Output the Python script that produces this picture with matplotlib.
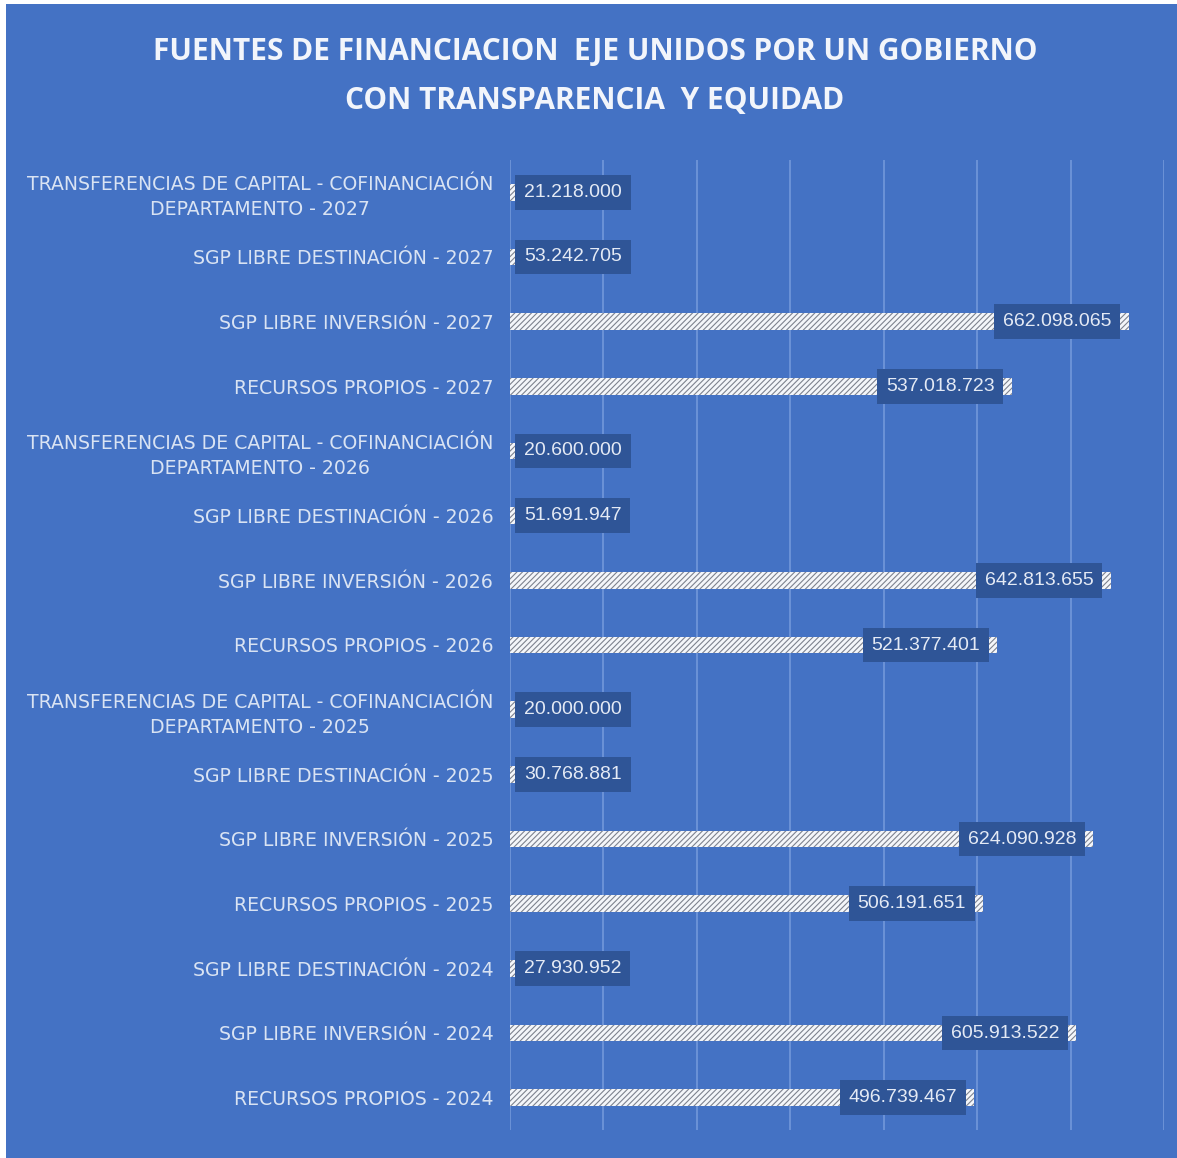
import matplotlib.pyplot as plt
from matplotlib.patches import Rectangle

# Fuentes de financiación, de abajo hacia arriba
categorias = [
    "RECURSOS PROPIOS - 2024",
    "SGP LIBRE INVERSIÓN - 2024",
    "SGP LIBRE DESTINACIÓN - 2024",
    "RECURSOS PROPIOS - 2025",
    "SGP LIBRE INVERSIÓN - 2025",
    "SGP LIBRE DESTINACIÓN - 2025",
    "TRANSFERENCIAS DE CAPITAL - COFINANCIACIÓN\nDEPARTAMENTO - 2025",
    "RECURSOS PROPIOS - 2026",
    "SGP LIBRE INVERSIÓN - 2026",
    "SGP LIBRE DESTINACIÓN - 2026",
    "TRANSFERENCIAS DE CAPITAL - COFINANCIACIÓN\nDEPARTAMENTO - 2026",
    "RECURSOS PROPIOS - 2027",
    "SGP LIBRE INVERSIÓN - 2027",
    "SGP LIBRE DESTINACIÓN - 2027",
    "TRANSFERENCIAS DE CAPITAL - COFINANCIACIÓN\nDEPARTAMENTO - 2027",
]
valores = [
    496739467, 605913522, 27930952,
    506191651, 624090928, 30768881, 20000000,
    521377401, 642813655, 51691947, 20600000,
    537018723, 662098065, 53242705, 21218000,
]

FONDO = "#4472c4"
CAJA = "#2f5597"
TEXTO = "#d9e3f3"

plt.rcParams["hatch.linewidth"] = 0.8


def miles(v):
    return f"{v:,}".replace(",", ".")


fig = plt.figure(figsize=(11.77, 11.58), dpi=100, facecolor="white")
fig.patches.append(Rectangle((6 / 1177, 0), 1, 1 - 4 / 1158, transform=fig.transFigure,
                             facecolor=FONDO, edgecolor="none", zorder=-10))

ax = fig.add_axes([510 / 1177, 1 - 1130 / 1158, 654 / 1177, 970 / 1158])
ax.set_zorder(2)
ax.patch.set_alpha(0)

y = list(range(len(categorias)))
ax.barh(y, valores, height=0.26, color="#f4f6fa", edgecolor="#7d828e",
        hatch="//////", linewidth=0, zorder=3)

# etiqueta dentro del extremo de la barra; si no cabe, al inicio del eje
for i, v in enumerate(valores):
    if v > 100e6:
        xy, dx, ha = (v, i), -17, "right"
    else:
        xy, dx, ha = (0, i), 14, "left"
    ax.annotate(miles(v), xy=xy, xytext=(dx, 0), textcoords="offset pixels",
                ha=ha, va="center", fontsize=14, color="#e4eaf5",
                family="Liberation Sans", zorder=5,
                bbox=dict(boxstyle="square,pad=0.45", fc=CAJA, ec="none"))

ax.set_xlim(0, 700e6)
ax.set_ylim(-0.5, len(categorias) - 0.5)
ax.set_xticks(range(0, 700_000_001, 100_000_000))
ax.grid(axis="x", color="#6f95d8", linewidth=1.3, zorder=1)
ax.tick_params(axis="x", length=0, labelbottom=False)
ax.set_yticks(y, categorias)
ax.tick_params(axis="y", length=0, pad=12, labelsize=13.6, labelcolor=TEXTO)
for lbl in ax.get_yticklabels():
    lbl.set_multialignment("center")
    lbl.set_linespacing(1.4)
for s in ax.spines.values():
    s.set_visible(False)

fig.text(595 / 1177, 1 - 52 / 1158, "FUENTES DE FINANCIACION  EJE UNIDOS POR UN GOBIERNO",
         ha="center", va="center", fontsize=21.5, fontweight="bold", color="#f2f5fb",
         family="Open Sans")
fig.text(595 / 1177, 1 - 101 / 1158, "CON TRANSPARENCIA  Y EQUIDAD",
         ha="center", va="center", fontsize=21.5, fontweight="bold", color="#f2f5fb",
         family="Open Sans")

fig.savefig("out.png", dpi=100, facecolor=fig.get_facecolor())
